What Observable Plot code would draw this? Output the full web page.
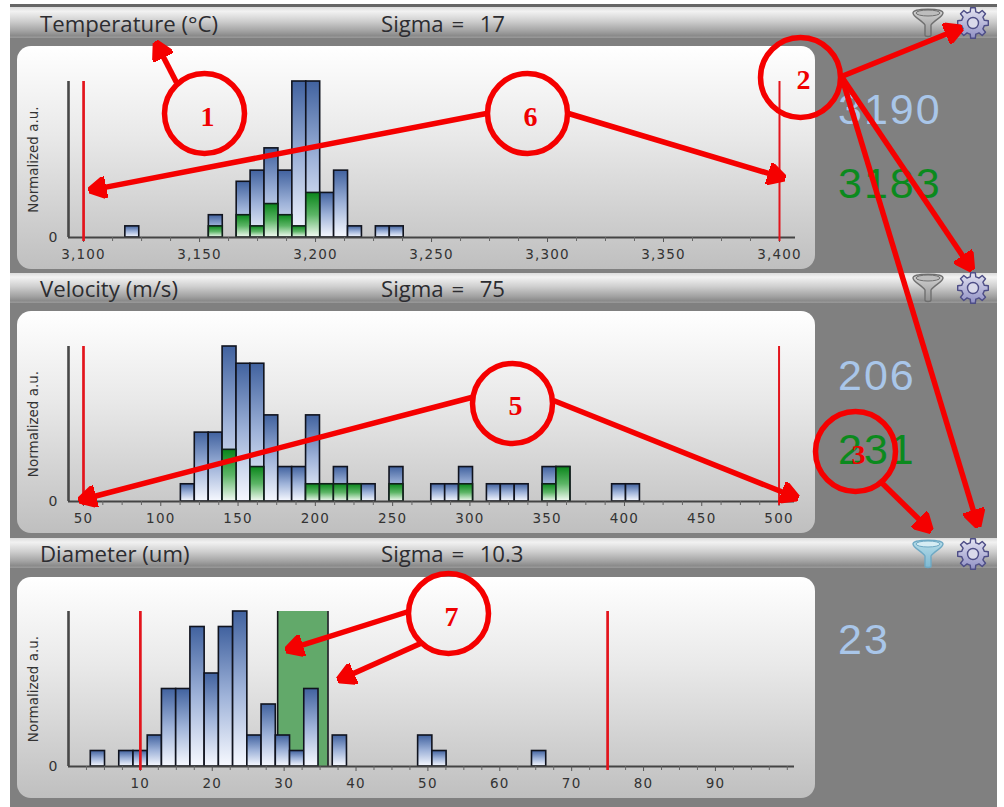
<!DOCTYPE html>
<html>
<head>
<meta charset="utf-8">
<script src="https://cdn.jsdelivr.net/npm/d3@7"></script>
<script src="https://cdn.jsdelivr.net/npm/@observablehq/plot@0.6"></script>
<style>
html,body{margin:0;padding:0;background:#fff;}
#stage{position:relative;width:1004px;height:807px;overflow:hidden;background:#fff;}
#back{position:absolute;left:10px;top:4px;width:987px;height:803px;background:#808080;border-top:3px solid #666;box-sizing:border-box;}
.head{position:absolute;left:10px;width:987px;box-sizing:border-box;
  background:linear-gradient(#dcdcdc 0,#f2f2f2 14%,#cfcfcf 45%,#a2a2a2 78%,#8b8b8b 92%,#9a9a9a 100%);}
.head span{position:absolute;font-family:"Open Sans",sans-serif;font-size:22.2px;color:#2c2c30;white-space:pre;line-height:28px;}
.head span.sig{word-spacing:2px;}
.card{position:absolute;left:17px;width:798px;border-radius:14px;background:linear-gradient(#fff 0,#e9e9e9 40%,#bfbfbf 100%);}
.big{position:absolute;font-family:"Liberation Sans",sans-serif;font-size:43px;letter-spacing:2px;line-height:44px;}
.plot{position:absolute;left:0;}
.icon{position:absolute;}
</style>
</head>
<body>
<div id="stage"><div id="back"></div></div>
<script>
// ---- Temperature panel
const tempStarts = [3118,3154,3160,3166,3172,3178,3184,3190,3196,3202,3208,3214,3226,3232];
const tempBlue   = [1,2,0,5,6,8,6,14,14,4,6,1,1,1];
const tempGreen  = [0,1,0,2,1,3,2,1,4,0,0,0,0,0];
const tempLimits = [3100,3400];
const tempExtent = [3093.5,3406.9];
const tempMajor  = [3100,3150,3200,3250,3300,3350,3400];
const tempMinor  = [3112.5,3125,3137.5,3162.5,3175,3187.5,3212.5,3225,3237.5,3262.5,3275,3287.5,3312.5,3325,3337.5,3362.5,3375,3387.5];
// ---- Velocity panel
const veloStarts = [113,122,131,140,149,158,167,176,185,194,203,212,221,230,248,275,284,293,311,320,329,347,356,392,401];
const veloBlue   = [1,4,4,9,8,8,5,2,2,5,1,2,1,1,2,1,1,2,1,1,1,2,2,1,1];
const veloGreen  = [0,0,0,3,0,2,0,0,0,1,1,1,1,0,1,0,0,1,0,0,0,1,2,0,0];
const veloLimits = [50,500];
const veloExtent = [40.3,510];
const veloMajor  = [50,100,150,200,250,300,350,400,450,500];
const veloMinor  = [62.5,75,87.5,112.5,125,137.5,162.5,175,187.5,212.5,225,237.5,262.5,275,287.5,312.5,325,337.5,362.5,375,387.5,412.5,425,437.5,462.5,475,487.5];
// ---- Diameter panel
const diamStarts = [3.1,7.06,9.04,11.02,13,14.98,16.96,18.94,20.92,22.9,24.88,26.86,28.84,30.82,32.8,36.76,48.64,50.62,64.48];
const diamBlue   = [1,1,1,2,5,5,9,6,9,10,2,4,2,1,5,2,2,1,1];
const diamGreen  = [0,0,0,0,0,0,0,0,0,0,0,0,0,0,0,0,0,0,0];
const diamLimits = [10,75];
const diamFilter = [29.1,36.1];
const diamExtent = [0,101];
const diamMajor  = [10,20,30,40,50,60,70,80,90];
const diamMinor  = [2.5,5,7.5,12.5,15,17.5,22.5,25,27.5,32.5,35,37.5,42.5,45,47.5,52.5,55,57.5,62.5,65,67.5,72.5,75,77.5,82.5,85,87.5,92.5,95,97.5,100];
// ---- Panel texts
const panelTitles = ["Temperature (°C)","Velocity (m/s)","Diameter (um)"];
const panelSigmas = ["Sigma =  17","Sigma =  75","Sigma =  10.3"];
const yAxisLabel  = "Normalized a.u.";
const blueReadouts  = ["3190","206","23"];
const greenReadouts = ["3183","231",""];
// ---- Callouts
const calloutCircles = [
 {x:204,y:113,n:"1",lx:207,ly:117},{x:800,y:77,n:"2",lx:803,ly:80},{x:855,y:451,n:"3",lx:858,ly:455},
 {x:512,y:403,n:"5",lx:515,ly:406},{x:527,y:113,n:"6",lx:530,ly:117},{x:448,y:613,n:"7",lx:451,ly:617}];
const calloutArrows = [
 {x1:176,y1:82,x2:155,y2:41},
 {x1:841,y1:76,x2:962,y2:27},{x1:841,y1:76,x2:972,y2:270},{x1:841,y1:76,x2:978,y2:527},
 {x1:882,y1:483,x2:931,y2:531},
 {x1:471,y1:397,x2:78,y2:500},{x1:553,y1:400,x2:798,y2:498},
 {x1:486,y1:113,x2:88,y2:190},{x1:568,y1:113,x2:785,y2:178},
 {x1:408,y1:611,x2:285,y2:650},{x1:420,y1:643,x2:337,y2:680}];

const stage = document.getElementById("stage");
const FONT = "DejaVu Sans";

// shared gradients for the bars
const defs = document.createElementNS("http://www.w3.org/2000/svg","svg");
defs.setAttribute("width",0);defs.setAttribute("height",0);defs.style.position="absolute";
defs.innerHTML = `<defs>
<linearGradient id="gBlue" x1="0" y1="0" x2="0" y2="1"><stop offset="0" stop-color="#41629f"/><stop offset="0.5" stop-color="#9fb3d9"/><stop offset="1" stop-color="#f7f9ff"/></linearGradient>
<linearGradient id="gGreen" x1="0" y1="0" x2="0" y2="1"><stop offset="0" stop-color="#0a861b"/><stop offset="0.5" stop-color="#5cb566"/><stop offset="1" stop-color="#f4fbf4"/></linearGradient>
<linearGradient id="gGear" x1="0" y1="0" x2="0" y2="1"><stop offset="0" stop-color="#e4e4f2"/><stop offset="1" stop-color="#8f8fc4"/></linearGradient>
<linearGradient id="gFunnel" x1="0" y1="0" x2="0" y2="1"><stop offset="0" stop-color="#d8d8d8"/><stop offset="1" stop-color="#8f8f8f"/></linearGradient>
<linearGradient id="gFunnelOn" x1="0" y1="0" x2="0" y2="1"><stop offset="0" stop-color="#b9dfea"/><stop offset="1" stop-color="#7db8d2"/></linearGradient>
</defs>`;
stage.appendChild(defs);

function histogram(p){
  const rows = p.starts.map((s,i)=>({x1:s,x2:s+p.bin,blue:p.blue[i],green:p.green[i]}));
  const marks = [];
  if(p.filter){
    marks.push(Plot.rect([p.filter],{x1:d=>d[0],x2:d=>d[1],y1:()=>0,y2:()=>p.yMax,fill:"#62a96a"}));
    marks.push(Plot.ruleX(p.filter,{y1:0,y2:p.yMax,stroke:"#15181c",strokeWidth:1.6}));
  }
  marks.push(
    Plot.rect(rows.filter(d=>d.blue>0),{x1:"x1",x2:"x2",y1:()=>0,y2:"blue",fill:"url(#gBlue)",stroke:"#10131e",strokeWidth:1.6}),
    Plot.rect(rows.filter(d=>d.green>0),{x1:"x1",x2:"x2",y1:()=>0,y2:"green",fill:"url(#gGreen)",stroke:"#10201a",strokeWidth:1.6}),
    Plot.ruleY([0],{x1:p.extent[0],x2:p.extent[1],stroke:"#444",strokeWidth:2}),
    Plot.ruleX([p.extent[0]],{y1:0,y2:p.yMax,stroke:"#484848",strokeWidth:2.6}),
    Plot.axisX({ticks:p.minor,tickSize:4,stroke:"#666",text:null,label:null}),
    Plot.axisX({ticks:p.major,tickSize:5,tickPadding:7,stroke:"#555",fill:"#333",label:null,tickFormat:p.fmt}),
    Plot.axisY({ticks:[0],tickSize:0,tickPadding:11,fill:"#333",label:yAxisLabel,labelAnchor:"center",labelArrow:"none",labelOffset:40}),
    Plot.ruleX([p.limits[0]],{y1:0,y2:p.yMax,stroke:"#e3141c",strokeWidth:2.7,insetTop:4}),
    Plot.ruleX([p.limits[1]],{y1:0,y2:p.yMax,stroke:"#e3141c",strokeWidth:p.filter?2.7:2,insetTop:4})
  );
  const plot = Plot.plot({
    width:1004,height:p.height,marginLeft:68,marginRight:p.mr,marginTop:p.mt,marginBottom:32,
    x:{domain:p.extent,axis:null},y:{domain:[0,p.yMax],axis:null},
    style:{background:"transparent",fontFamily:FONT,overflow:"visible"},
    marks
  });
  plot.classList.add("plot");
  plot.style.top = p.top+"px";
  // tick labels and axis title sizes
  d3.select(plot).selectAll('g[aria-label="x-axis tick label"] text').style("font-size","13.5px").style("letter-spacing","1.2px");
  d3.select(plot).selectAll('g[aria-label="y-axis tick label"] text').style("font-size","14px");
  d3.select(plot).selectAll('g[aria-label="y-axis label"] text').style("font-size","13.5px");
  return plot;
}

const comma = d3.format(",");
const panels = [
 {head:7,headH:31,top:46,height:223,mt:35,mr:209,starts:tempStarts,bin:6,blue:tempBlue,green:tempGreen,limits:tempLimits,extent:tempExtent,major:tempMajor,minor:tempMinor,yMax:14,fmt:comma,iconY:23,bigY:[87,161],on:false},
 {head:273,headH:30,top:311,height:222,mt:35,mr:210,starts:veloStarts,bin:9,blue:veloBlue,green:veloGreen,limits:veloLimits,extent:veloExtent,major:veloMajor,minor:veloMinor,yMax:9,fmt:d3.format("d"),iconY:288,bigY:[353,427],on:false},
 {head:538,headH:30,top:577,height:221,mt:34,mr:210,starts:diamStarts,bin:1.98,blue:diamBlue,green:diamGreen,limits:diamLimits,filter:diamFilter,extent:diamExtent,major:diamMajor,minor:diamMinor,yMax:10,fmt:d3.format("d"),iconY:554,bigY:[617,0],on:true}
];

function gearPath(cx,cy,ro,ri,teeth){
  const pts=[];
  for(let i=0;i<teeth;i++){
    const a=i*2*Math.PI/teeth, w=Math.PI/teeth;
    [[ri,a-w],[ri,a-w*0.62],[ro,a-w*0.38],[ro,a+w*0.38],[ri,a+w*0.62]].forEach(([r,t])=>pts.push([cx+r*Math.cos(t),cy+r*Math.sin(t)]));
  }
  return "M"+pts.map(p=>p.map(v=>v.toFixed(1)).join(",")).join("L")+"Z";
}
function icons(y,on){
  const s=document.createElementNS("http://www.w3.org/2000/svg","svg");
  s.setAttribute("class","icon");
  s.setAttribute("width",90);s.setAttribute("height",36);
  s.style.left="908px";s.style.top=(y-18)+"px";
  const fc=on?"url(#gFunnelOn)":"url(#gFunnel)", sc=on?"#6fa9c4":"#6f6f6f";
  s.innerHTML=`<path d="M5,8 C5,3 35,3 35,8 C35,12 26,15 23,20 L23,30 C23,32 17,32 17,30 L17,20 C14,15 5,12 5,8Z" fill="${fc}" stroke="${sc}" stroke-width="1.4"/>
  <ellipse cx="20" cy="8" rx="12" ry="3" fill="${on?'#d6edf4':'#bdbdbd'}" stroke="${sc}" stroke-width="1"/>
  <path d="${gearPath(65,18,15.5,11.5,8)}" fill="url(#gGear)" stroke="#4d4d86" stroke-width="1.4" stroke-linejoin="round"/>
  <circle cx="65" cy="18" r="5.5" fill="#d9d9ea" stroke="#4d4d86" stroke-width="1.4"/>`;
  return s;
}

panels.forEach((p,i)=>{
  const h=document.createElement("div");h.className="head";h.style.top=p.head+"px";h.style.height=p.headH+"px";
  const t=document.createElement("span");t.textContent=panelTitles[i];t.style.left="30px";t.style.top=(p.headH/2-13)+"px";
  const s=document.createElement("span");s.className="sig";s.textContent=panelSigmas[i];s.style.left="371px";s.style.top=(p.headH/2-13)+"px";
  h.append(t,s);stage.appendChild(h);
  const c=document.createElement("div");c.className="card";c.style.top=p.top+"px";c.style.height=p.height+"px";stage.appendChild(c);
  stage.appendChild(histogram(p));
  stage.appendChild(icons(p.iconY,p.on));
  [[blueReadouts[i],"#a9c6e9",p.bigY[0]],[greenReadouts[i],"#0b8a1d",p.bigY[1]]].forEach(([txt,col,y])=>{
    if(!txt) return;
    const b=document.createElement("div");b.className="big";b.textContent=txt;b.style.color=col;b.style.left="838px";b.style.top=y+"px";stage.appendChild(b);
  });
});

// solid arrow head for the callouts
function arrowHead(color,context){
  const m=d3.select(context.document.createElementNS("http://www.w3.org/2000/svg","marker"))
    .attr("viewBox","-8 -11 18 22").attr("markerWidth",18).attr("markerHeight",22)
    .attr("markerUnits","userSpaceOnUse").attr("refX",0).attr("refY",0).attr("orient","auto");
  m.append("path").attr("d","M-8,-10L10,0L-8,10Z").attr("fill",color);
  return m.node();
}
const shafts = calloutArrows.map(a=>{
  const L=Math.hypot(a.x2-a.x1,a.y2-a.y1);
  return {x1:a.x1,y1:a.y1,x2:a.x2-(a.x2-a.x1)/L*10,y2:a.y2-(a.y2-a.y1)/L*10};
});
const overlay = Plot.plot({
  width:1004,height:807,margin:0,
  x:{domain:[0,1004],range:[0,1004],axis:null},
  y:{domain:[0,807],range:[0,807],axis:null},
  style:{background:"transparent"},
  marks:[
    Plot.link(shafts,{x1:"x1",y1:"y1",x2:"x2",y2:"y2",stroke:"#f50000",strokeWidth:5.5,markerEnd:arrowHead}),
    Plot.dot(calloutCircles,{x:"x",y:"y",r:40,fill:"none",stroke:"#f50000",strokeWidth:5.5}),
    Plot.text(calloutCircles,{x:"lx",y:"ly",text:"n",fill:"#f00000",fontSize:28,fontWeight:"bold",fontFamily:"Liberation Serif"})
  ]
});
overlay.classList.add("plot");
overlay.style.top="0px";
stage.appendChild(overlay);
</script>
</body>
</html>
